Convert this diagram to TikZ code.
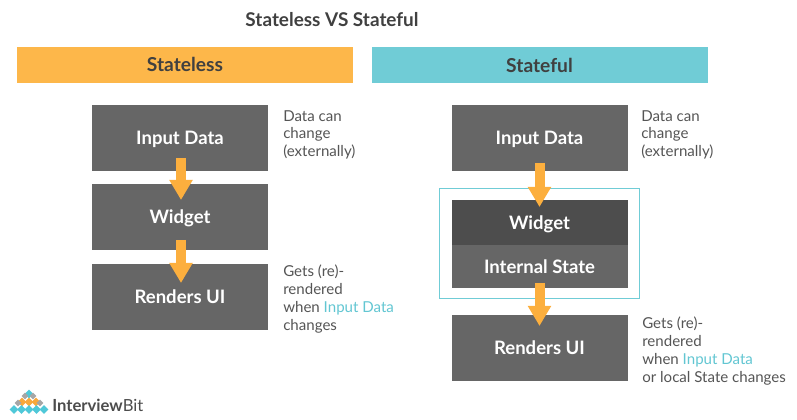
\documentclass[tikz,border=0pt]{standalone}
\usepackage{fontspec}
\setmainfont{Lato}
\usetikzlibrary{arrows.meta,calc,shapes.geometric}
\definecolor{boxgray}{HTML}{666666}
\definecolor{boxdark}{HTML}{4D4D4D}
\definecolor{hdorange}{HTML}{FDB74A}
\definecolor{hdcyan}{HTML}{70CCD6}
\definecolor{arroworange}{HTML}{FCAF3E}
\definecolor{txtgray}{HTML}{555555}
\definecolor{linkcyan}{HTML}{62C6D2}
\definecolor{logoc}{HTML}{4FC8D8}
\definecolor{logoo}{HTML}{F9A83C}
\tikzset{
  px/.style={x=0.75pt,y=-0.75pt},
  flowbox/.style={fill=boxgray,text=white,minimum width=132pt,minimum height=49.5pt,inner sep=0pt,outer sep=0pt,text height=10pt,text depth=0pt,font=\fontsize{13.9pt}{16pt}\selectfont\bfseries},
  header/.style={minimum width=252pt,minimum height=27pt,inner sep=0pt,outer sep=0pt,text height=10pt,text depth=0pt,text=black!75,font=\fontsize{14.4pt}{16pt}\selectfont\bfseries},
  note/.style={anchor=north west,align=left,inner sep=0pt,text=txtgray,font=\fontsize{11.3pt}{13.3pt}\selectfont},
  flowarrow/.style={draw=arroworange,line width=7.5pt,-{Triangle[length=15pt,width=16.5pt]}},
  dot/.style={diamond,aspect=1,inner sep=0pt,minimum size=6.4pt,outer sep=0pt},
}
\begin{document}
\begin{tikzpicture}[px]
\useasboundingbox (0,0) rectangle (797,420);
\node[text=black!75,font=\fontsize{14.2pt}{18pt}\selectfont\bfseries] (title) at (332,20) {Stateless VS Stateful};
\node[header,fill=hdorange] (hl) at (185,65) {Stateless};
\node[header,fill=hdcyan] (hr) at (539.5,65.5) {Stateful};
% left column
\node[flowbox] (li) at (180,138) {Input Data};
\node[flowbox] (lw) at (180,217) {Widget};
\node[flowbox] (lr) at (180,297) {Renders UI};
% right column
\node[flowbox] (ri) at (539.5,138) {Input Data};
\node[draw=hdcyan,line width=0.6pt,minimum width=149.5pt,minimum height=82.5pt,inner sep=0pt] (frame) at (539.5,243) {};
\node[flowbox,fill=boxdark,minimum height=33.75pt] (rw) at (539.5,222.5) {Widget};
\node[flowbox,minimum height=32.25pt,anchor=north] (rs) at (rw.south) {Internal State};
\node[flowbox] (rr) at (539.5,348) {Renders UI};
% arrows
\draw[flowarrow] ($(li.south)+(1,-13)$) -- ($(lw.north)+(1,16)$);
\draw[flowarrow] ($(lw.south)+(1,-10)$) -- ($(lr.north)+(1,19)$);
\draw[flowarrow] ($(ri.south)+(0,-8)$) -- ($(rw.north)+(0,7)$);
\draw[flowarrow] ($(rs.south)+(0,-5)$) -- ($(rr.north)+(0,11)$);
% notes
\node[note] (n1) at (283,110) {Data can\\change\\(externally)};
\node[note] (n2) at (283,265) {Gets (re)-\\rendered\\when {\color{linkcyan}Input Data}\\changes};
\node[note] (n3) at (641,110) {Data can\\change\\(externally)};
\node[note] (n4) at (642,317) {Gets (re)-\\rendered\\when {\color{linkcyan}Input Data}\\or local State changes};
% logo
\foreach \n/\x/\y/\c in {a/29/394/logoc,b/22/402/logoo,c/29/402/logoo,d/36/402/logoo,e/14/409.5/logoc,f/21.5/409.5/logoc,g/29/409.5/logoc,h/36.5/409.5/logoc,i/44/409.5/logoc}{
  \node[dot,fill=\c] (logo\n) at (\x,\y) {};
}
\node[dot,fill=black!35,minimum size=5pt] (logol) at (18,403) {};
\node[dot,fill=black!35,minimum size=5pt] (logom) at (40,403) {};
\node[dot,fill=black!35,minimum size=5pt] (logon) at (25,396) {};
\node[dot,fill=black!35,minimum size=5pt] (logop) at (33,396) {};
\node[anchor=west,inner sep=0pt,text=black!70,font=\fontsize{12.5pt}{15pt}\selectfont] (logot) at (52,405.5) {\textbf{Interview}Bit};
\end{tikzpicture}
\end{document}
